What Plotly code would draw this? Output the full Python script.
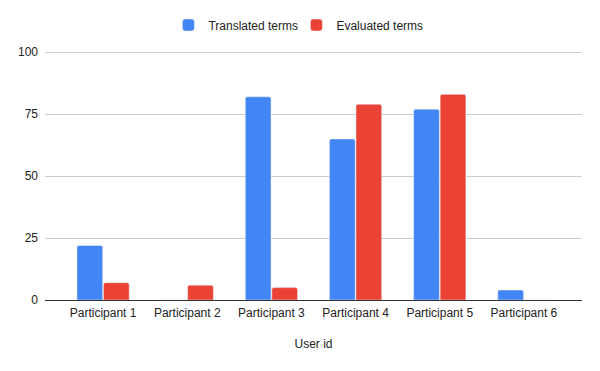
import plotly.graph_objects as go

categories = ["Participant 1", "Participant 2", "Participant 3", "Participant 4", "Participant 5", "Participant 6"]
translated = [22, 0, 82, 65, 77, 4]
evaluated = [7, 6, 5, 79, 83, 0]
y_ticks = [0, 25, 50, 75, 100]

FONT = "Liberation Sans, Arial, sans-serif"

fig = go.Figure()
fig.add_trace(go.Bar(name="Translated terms", x=categories, y=translated, marker_color="#4285F4"))
fig.add_trace(go.Bar(name="Evaluated terms", x=categories, y=evaluated, marker_color="#EA4335"))

fig.update_layout(
    width=600, height=371,
    margin=dict(l=45, r=18, t=51, b=71, autoexpand=False),
    paper_bgcolor="white", plot_bgcolor="white",
    font=dict(family=FONT, size=12, color="#222222"),
    barmode="group", bargap=0.37, bargroupgap=0.03, barcornerradius=2,
    legend=dict(orientation="h", xref="container", x=0.494, xanchor="center",
                yref="container", y=1 - 25 / 371, yanchor="middle",
                font=dict(size=12, color="#222222"), itemwidth=30, entrywidth=83),
    xaxis=dict(range=[-0.69, 5.69], showgrid=False, ticks="", automargin=False,
               tickfont=dict(size=12, color="#222222"), ticklabelstandoff=4,
               title=dict(text="User id", standoff=20, font=dict(size=12, color="#222222")),
               showline=False, zeroline=False),
    yaxis=dict(range=[0, 100.5], tickvals=y_ticks, showgrid=True, gridcolor="#CCCCCC", gridwidth=1,
               zeroline=True, zerolinecolor="#333333", zerolinewidth=1, automargin=False,
               tickfont=dict(size=12, color="#222222"), ticks="", ticklabelstandoff=6),
)

fig.write_html("out.html", config={"displayModeBar": False},
               post_script="document.body.style.margin='0';")
